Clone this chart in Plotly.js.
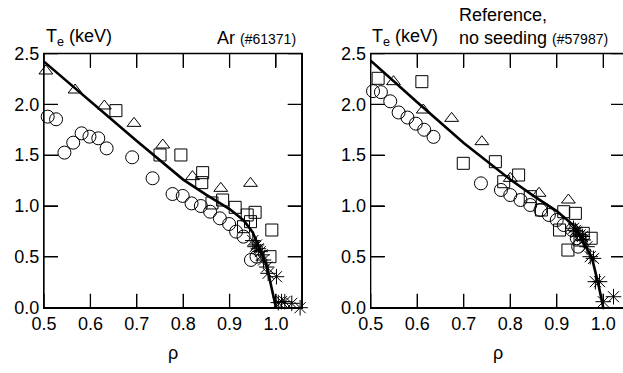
<!DOCTYPE html>
<html>
<head>
<meta charset="utf-8">
<script src="https://cdn.plot.ly/plotly-3.0.1.min.js"></script>
<style>
html,body{margin:0;padding:0;overflow:hidden;background:#fff;}
#chart{width:626px;height:373px;}
</style>
</head>
<body>
<div id="chart"></div>
<script>
// ---- Left panel: Ar (#61371) ----
const arFitX = [0.5, 0.6, 0.7, 0.8, 0.85, 0.9, 0.93, 0.95, 0.965, 0.98, 1.0];
const arFitY = [2.42, 2.03, 1.64, 1.26, 1.11, 0.97, 0.86, 0.74, 0.58, 0.41, 0.0];

const arCircX = [0.508, 0.526, 0.544, 0.563, 0.581, 0.598, 0.617, 0.635, 0.690, 0.734, 0.777, 0.799, 0.818, 0.838, 0.858, 0.879, 0.899, 0.914, 0.930, 0.946, 0.958];
const arCircY = [1.879, 1.853, 1.525, 1.623, 1.715, 1.682, 1.666, 1.567, 1.479, 1.273, 1.118, 1.099, 1.026, 1.000, 0.944, 0.879, 0.823, 0.748, 0.699, 0.470, 0.502];

const arTriX = [0.504, 0.567, 0.630, 0.694, 0.756, 0.820, 0.881, 0.945];
const arTriY = [2.328, 2.141, 1.984, 1.813, 1.600, 1.289, 1.174, 1.223];

const arSqX = [0.655, 0.750, 0.795, 0.842, 0.840, 0.862, 0.885, 0.912, 0.930, 0.938, 0.945, 0.955, 0.991, 0.987];
const arSqY = [1.938, 1.502, 1.502, 1.328, 1.230, 1.030, 1.059, 0.987, 0.797, 0.912, 0.846, 0.938, 0.764, 0.502];

const arStarX = [0.950, 0.955, 0.958, 0.962, 0.966, 0.970, 0.973, 0.980, 0.983, 1.001, 1.005, 1.012, 1.019, 1.034, 1.052];
const arStarY = [0.660, 0.600, 0.617, 0.580, 0.551, 0.520, 0.469, 0.400, 0.338, 0.305, 0.050, 0.060, 0.059, 0.043, 0.000];

// ---- Right panel: Reference, no seeding (#57987) ----
const refFitX = [0.5, 0.6, 0.7, 0.8, 0.85, 0.9, 0.936, 0.957, 0.975, 0.989, 1.0];
const refFitY = [2.43, 2.02, 1.62, 1.26, 1.10, 0.95, 0.81, 0.65, 0.50, 0.24, 0.0];

const refCircX = [0.505, 0.522, 0.542, 0.560, 0.579, 0.597, 0.615, 0.635, 0.737, 0.780, 0.800, 0.822, 0.843, 0.865, 0.883, 0.900, 0.915, 0.933, 0.943, 0.946];
const refCircY = [2.13, 2.12, 2.03, 1.92, 1.87, 1.81, 1.75, 1.68, 1.223, 1.158, 1.108, 1.059, 1.010, 0.961, 0.912, 0.862, 0.813, 0.764, 0.683, 0.600];

const refTriX = [0.549, 0.613, 0.674, 0.739, 0.800, 0.862, 0.925];
const refTriY = [2.223, 1.944, 1.862, 1.633, 1.272, 1.125, 1.059];

const refSqX = [0.516, 0.610, 0.699, 0.768, 0.786, 0.818, 0.843, 0.867, 0.906, 0.915, 0.924, 0.940, 0.950, 0.957, 0.974];
const refSqY = [2.256, 2.223, 1.420, 1.436, 1.239, 1.305, 1.092, 0.961, 0.764, 0.944, 0.567, 0.928, 0.666, 0.731, 0.683];

const refStarX = [0.936, 0.940, 0.943, 0.950, 0.955, 0.957, 0.965, 0.972, 0.979, 0.983, 0.992, 1.000, 1.022];
const refStarY = [0.781, 0.760, 0.747, 0.715, 0.700, 0.666, 0.600, 0.502, 0.485, 0.256, 0.256, 0.059, 0.108];

// ---- Ticks ----
const xTickVals = [0.5, 0.6, 0.7, 0.8, 0.9, 1.0];
const xTickText = ['0.5', '0.6', '0.7', '0.8', '0.9', '1.0'];
const yTickVals = [0.0, 0.5, 1.0, 1.5, 2.0, 2.5];
const yTickText = ['0.0', '0.5', '1.0', '1.5', '2.0', '2.5'];

const W = 626, H = 373;
const FONT = 'Liberation Sans, Arial, Helvetica, sans-serif';
const TICKLEN = 14;
const TICKW = 1.3;

function mk(x, y, symbol, size, xa, ya) {
  return {x: x, y: y, xaxis: xa, yaxis: ya, type: 'scatter', mode: 'markers',
    marker: {symbol: symbol, size: size, color: '#000', line: {color: '#000', width: 1}},
    hoverinfo: 'skip', showlegend: false, cliponaxis: false};
}
function fit(x, y, xa, ya) {
  return {x: x, y: y, xaxis: xa, yaxis: ya, type: 'scatter', mode: 'lines',
    line: {color: '#000', width: 2.6}, hoverinfo: 'skip', showlegend: false};
}
function star(x, y, xa, ya) {
  return {x: x, y: y, xaxis: xa, yaxis: ya, type: 'scatter', mode: 'markers',
    marker: {symbol: 'asterisk-open', size: 13, color: '#000', line: {color: '#000', width: 1}},
    hoverinfo: 'skip', showlegend: false, cliponaxis: false};
}

const data = [
  mk(arCircX, arCircY, 'circle-open', 13, 'x', 'y'),
  mk(arSqX, arSqY, 'square-open', 12, 'x', 'y'),
  mk(arTriX, arTriY, 'triangle-up-open', 12, 'x', 'y'),
  fit(arFitX, arFitY, 'x', 'y'),
  star(arStarX, arStarY, 'x', 'y'),
  mk(refCircX, refCircY, 'circle-open', 13, 'x2', 'y2'),
  mk(refSqX, refSqY, 'square-open', 12, 'x2', 'y2'),
  mk(refTriX, refTriY, 'triangle-up-open', 12, 'x2', 'y2'),
  fit(refFitX, refFitY, 'x2', 'y2'),
  star(refStarX, refStarY, 'x2', 'y2')
];

function xax(domain, range, anchor) {
  return {domain: domain, range: range, anchor: anchor, tickmode: 'array', tickvals: xTickVals, ticktext: xTickText,
    ticks: 'inside', ticklen: TICKLEN, tickwidth: TICKW, tickcolor: '#000',
    showline: true, linecolor: '#000', linewidth: 1.3, mirror: 'allticks',
    showgrid: true, gridcolor: 'rgba(0,0,0,0)', zeroline: false,
    tickfont: {family: FONT, size: 18, color: '#000'}};
}
function yax(domain, anchor) {
  return {domain: domain, range: [0, 2.5], anchor: anchor, tickmode: 'array', tickvals: yTickVals, ticktext: yTickText,
    ticks: 'inside', ticklen: TICKLEN, tickwidth: TICKW, tickcolor: '#000',
    showline: true, linecolor: '#000', linewidth: 1.3, mirror: 'allticks',
    showgrid: true, gridcolor: 'rgba(0,0,0,0)', zeroline: false,
    tickfont: {family: FONT, size: 18, color: '#000'}};
}

const yDomPx = [307.7, 53.5];
const leftPx = [44, 301.7];
const rightPx = [370.7, 625];
const leftRange = [0.5, 1.0554];
const rightRange = [0.5, 1.0467];
const yRange = [0, 2.5];
const yDom = [(H - yDomPx[0]) / H, (H - yDomPx[1]) / H];
const plotH = yDomPx[0] - yDomPx[1];

// Frame plus inward tick marks (thin filled rectangles) at the tick values, in axis coordinates
function frameAndTicks(xa, ya, wPx, xr) {
  const xPerPx = (xr[1] - xr[0]) / wPx;
  const yPerPx = (yRange[1] - yRange[0]) / plotH;
  const fx = TICKLEN / wPx, fy = TICKLEN / plotH;
  const tk = {type: 'rect', fillcolor: '#000', line: {width: 0}, layer: 'above'};
  const s = [{type: 'rect', xref: xa + ' domain', yref: ya + ' domain', x0: 0, x1: 1, y0: 0, y1: 1,
              line: {color: '#000', width: 1.3}, layer: 'above'}];
  xTickVals.forEach(function (v) {
    const hw = TICKW / 2 * xPerPx;
    s.push(Object.assign({}, tk, {xref: xa, yref: ya + ' domain', x0: v - hw, x1: v + hw, y0: 0, y1: fy}));
    s.push(Object.assign({}, tk, {xref: xa, yref: ya + ' domain', x0: v - hw, x1: v + hw, y0: 1 - fy, y1: 1}));
  });
  yTickVals.forEach(function (v) {
    const hh = TICKW / 2 * yPerPx;
    s.push(Object.assign({}, tk, {yref: ya, xref: xa + ' domain', y0: v - hh, y1: v + hh, x0: 0, x1: fx}));
    s.push(Object.assign({}, tk, {yref: ya, xref: xa + ' domain', y0: v - hh, y1: v + hh, x0: 1 - fx, x1: 1}));
  });
  return s;
}

const layout = {
  width: W, height: H,
  margin: {l: 0, r: 0, t: 0, b: 0},
  paper_bgcolor: '#fff', plot_bgcolor: '#fff',
  showlegend: false,
  xaxis: xax([leftPx[0] / W, leftPx[1] / W], leftRange, 'y'),
  yaxis: yax(yDom, 'x'),
  xaxis2: xax([rightPx[0] / W, rightPx[1] / W], rightRange, 'y2'),
  yaxis2: yax(yDom, 'x2'),
  shapes: frameAndTicks('x', 'y', leftPx[1] - leftPx[0], leftRange)
    .concat(frameAndTicks('x2', 'y2', rightPx[1] - rightPx[0], rightRange)),
  annotations: [
    {xref: 'paper', yref: 'paper', x: 44 / W, y: (H - 38) / H, xanchor: 'left', yanchor: 'middle', showarrow: false,
     text: 'T<sub>e</sub> (keV)', font: {family: FONT, size: 18, color: '#000'}},
    {xref: 'paper', yref: 'paper', x: 298 / W, y: (H - 38) / H, xanchor: 'right', yanchor: 'middle', showarrow: false,
     text: 'Ar <span style="font-size:14px">(#61371)</span>', font: {family: FONT, size: 18, color: '#000'}},
    {xref: 'paper', yref: 'paper', x: 370 / W, y: (H - 38) / H, xanchor: 'left', yanchor: 'middle', showarrow: false,
     text: 'T<sub>e</sub> (keV)', font: {family: FONT, size: 18, color: '#000'}},
    {xref: 'paper', yref: 'paper', x: 457 / W, y: (H - 15) / H, xanchor: 'left', yanchor: 'middle', showarrow: false,
     text: 'Reference,', font: {family: FONT, size: 18, color: '#000'}},
    {xref: 'paper', yref: 'paper', x: 457 / W, y: (H - 38) / H, xanchor: 'left', yanchor: 'middle', showarrow: false,
     text: 'no seeding <span style="font-size:14px">(#57987)</span>', font: {family: FONT, size: 18, color: '#000'}},
    {xref: 'x domain', yref: 'paper', x: 0.5, y: (H - 353) / H, xanchor: 'center', yanchor: 'middle', showarrow: false,
     text: 'ρ', font: {family: FONT, size: 18, color: '#000'}},
    {xref: 'x2 domain', yref: 'paper', x: 0.5, y: (H - 353) / H, xanchor: 'center', yanchor: 'middle', showarrow: false,
     text: 'ρ', font: {family: FONT, size: 18, color: '#000'}}
  ]
};

Plotly.newPlot('chart', data, layout, {displayModeBar: false});
</script>
</body>
</html>
